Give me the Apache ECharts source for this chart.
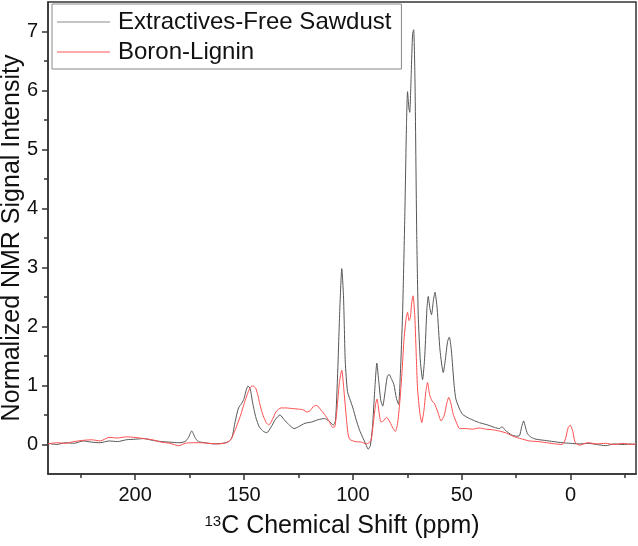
<!DOCTYPE html>
<html>
<head>
<meta charset="utf-8">
<script src="https://cdn.jsdelivr.net/npm/echarts@6/dist/echarts.min.js"></script>
<style>
  html, body { margin: 0; padding: 0; background: #fff; }
  #chart { width: 638px; height: 546px; }
</style>
</head>
<body>
<div id="chart"></div>
<script>
// 曲线数据
var sawdustPpm = [240, 236, 232, 228, 224, 220, 216, 212, 208, 204, 200, 196, 192, 188, 184, 180, 177, 175.5, 174, 172.5, 171, 168, 164, 160, 157, 155.5, 154, 152.5, 151, 150, 149, 148.2, 147.2, 146, 144.5, 143, 141, 139.5, 137.5, 135.5, 133.5, 131.5, 129.5, 127, 125, 122, 119, 116, 113, 111, 109, 108, 107, 106, 105.1, 104.3, 103.5, 102.5, 101.5, 100, 98.5, 97, 95.5, 94, 93, 92, 91, 90, 89, 88.2, 87.2, 86.3, 85.2, 84.2, 83.4, 82.4, 81.2, 80, 79, 78.2, 77.2, 76.2, 75.4, 74.9, 74.3, 73.9, 73.2, 72.6, 72.1, 71.5, 70.7, 70, 69, 68, 67, 66, 65.4, 64.6, 63.9, 63, 62.3, 61.3, 60, 58.5, 57.5, 56.5, 55.7, 54.8, 53.5, 52.7, 51, 49.6, 47, 44, 41.9, 38, 35, 32.8, 31.5, 30, 27, 25, 23.5, 22.5, 21.6, 20.8, 19.8, 18, 16, 12, 8, 4, 0, -4, -8, -12, -16, -20, -24, -28, -30];
var sawdustVal = [0.02, 0.0, 0.03, 0.02, 0.06, 0.04, 0.03, 0.06, 0.05, 0.08, 0.09, 0.10, 0.07, 0.05, 0.04, 0.03, 0.05, 0.12, 0.23, 0.12, 0.05, 0.03, 0.01, 0.02, 0.05, 0.12, 0.40, 0.62, 0.70, 0.78, 0.92, 0.99, 0.95, 0.70, 0.45, 0.30, 0.22, 0.20, 0.30, 0.43, 0.50, 0.42, 0.34, 0.27, 0.30, 0.36, 0.38, 0.42, 0.44, 0.40, 0.33, 0.40, 1.2, 2.3, 2.98, 2.5, 1.4, 0.9, 0.78, 0.62, 0.42, 0.25, 0.12, 0.0, -0.08, -0.02, 0.3, 0.9, 1.38, 1.1, 0.75, 0.65, 0.9, 1.15, 1.19, 1.12, 1.02, 0.78, 0.68, 1.2, 2.2, 3.8, 5.4, 5.98, 5.7, 5.63, 6.3, 6.95, 7.03, 6.2, 3.6, 2.2, 1.4, 1.10, 1.5, 2.3, 2.51, 2.3, 2.2, 2.45, 2.58, 2.3, 1.6, 1.22, 1.45, 1.75, 1.82, 1.6, 1.0, 0.77, 0.6, 0.51, 0.45, 0.40, 0.37, 0.33, 0.29, 0.27, 0.30, 0.24, 0.16, 0.14, 0.15, 0.3, 0.40, 0.3, 0.18, 0.12, 0.09, 0.07, 0.05, 0.03, 0.02, 0.01, 0.02, 0.0, -0.02, 0.01, 0.0, 0.01, 0.0];

var ligninPpm = [240, 236, 232, 228, 224, 220, 216, 212, 208, 204, 200, 196, 192, 188, 184, 180, 177, 174, 170, 166, 162, 158, 156, 154, 152.8, 151.5, 149.8, 148.5, 147.5, 146.5, 145.6, 144.6, 143.5, 142.9, 141.5, 139.8, 138.6, 137, 135.2, 133, 130.8, 128, 125, 123, 121, 119.5, 118, 116.5, 115, 113, 111, 109.3, 108.3, 107.3, 106.2, 105.1, 104.2, 103.1, 102.3, 101.5, 99, 96, 94, 92.5, 91.5, 90.5, 89.5, 88.9, 88, 87.1, 86, 84.5, 83, 81.5, 80.5, 79.5, 78.5, 77.5, 76.5, 75.5, 74.9, 74.2, 73.6, 73, 72.4, 71.6, 70.8, 70.3, 69.3, 68.4, 67.3, 66.5, 65.7, 64.8, 63.7, 62.6, 61, 59.5, 58, 57, 56, 55, 54, 53.4, 52, 51.1, 48, 45, 42, 39, 36, 33, 30, 27, 25, 22, 19, 15, 11, 7, 4, 2.5, 1.2, 0.2, -1, -2, -4, -8, -12, -16, -20, -24, -28, -30];
var ligninVal = [0.01, 0.03, 0.02, 0.05, 0.07, 0.08, 0.06, 0.12, 0.11, 0.13, 0.12, 0.10, 0.08, 0.04, 0.02, -0.02, 0.02, 0.03, 0.03, 0.02, 0.01, 0.03, 0.09, 0.25, 0.37, 0.50, 0.71, 0.85, 0.94, 0.99, 0.99, 0.95, 0.82, 0.71, 0.52, 0.37, 0.33, 0.42, 0.56, 0.62, 0.62, 0.61, 0.60, 0.59, 0.55, 0.58, 0.65, 0.66, 0.60, 0.51, 0.40, 0.29, 0.30, 0.6, 1.05, 1.26, 0.95, 0.49, 0.2, 0.09, 0.05, 0.04, 0.01, 0.03, 0.1, 0.4, 0.7, 0.77, 0.55, 0.38, 0.40, 0.46, 0.38, 0.27, 0.22, 0.35, 0.7, 1.2, 1.8, 2.15, 2.24, 2.10, 2.15, 2.4, 2.52, 2.2, 1.4, 0.94, 0.55, 0.37, 0.6, 0.9, 1.05, 0.85, 0.74, 0.70, 0.55, 0.40, 0.5, 0.68, 0.80, 0.70, 0.52, 0.46, 0.33, 0.27, 0.27, 0.26, 0.28, 0.26, 0.25, 0.23, 0.20, 0.15, 0.12, 0.09, 0.06, 0.05, 0.03, 0.01, 0.0, 0.08, 0.28, 0.33, 0.22, 0.04, -0.01, 0.03, 0.01, 0.02, 0.00, 0.02, 0.0, 0.01];

var xMajorTicks = [0, 50, 100, 150, 200];
var xMinorTicks = [-25, 25, 75, 125, 175, 225];
var yMajorTicks = [0, 1, 2, 3, 4, 5, 6, 7];
var yMinorTicks = [0.5, 1.5, 2.5, 3.5, 4.5, 5.5, 6.5];

function pairs(xs, ys) {
  return xs.map(function (x, i) { return [x, ys[i]]; });
}

var font = 'Liberation Sans';
var myChart = echarts.init(document.getElementById('chart'));

var option = {
  animation: false,
  grid: {
    left: 48, right: 2, top: 2, bottom: 72,
    outerBoundsMode: 'none',
    containLabel: false,
    show: true, borderColor: '#333', borderWidth: 1.5
  },
  legend: {
    orient: 'vertical',
    left: 52, top: 4,
    padding: [5, 10, 4, 5],
    itemWidth: 53, itemHeight: 2, itemGap: 4,
    icon: 'rect',
    borderColor: '#888', borderWidth: 1,
    textStyle: { fontSize: 24, fontFamily: font, color: '#111', lineHeight: 26, padding: [0, 0, 0, 3] },
    data: [
      { name: 'Extractives-Free Sawdust', itemStyle: { color: '#c4c4c4' } },
      { name: 'Boron-Lignin', itemStyle: { color: '#ffaaaa' } }
    ]
  },
  xAxis: [
    {
      type: 'value', inverse: true, min: -30, max: 240,
      position: 'bottom',
      name: '{sup|13}C Chemical Shift (ppm)',
      nameLocation: 'middle', nameGap: 40,
      nameMoveOverlap: false,
      nameTextStyle: {
        fontSize: 25, fontFamily: font, color: '#111',
        rich: { sup: { fontSize: 15, fontFamily: font, color: '#111', verticalAlign: 'top' } }
      },
      axisLine: { show: true, onZero: false, lineStyle: { color: '#333', width: 1.5 } },
      axisTick: { show: true, inside: false, length: 6, customValues: xMajorTicks, lineStyle: { color: '#333', width: 1.5 } },
      axisLabel: { customValues: xMajorTicks, fontSize: 20, fontFamily: font, color: '#111', margin: 11 },
      splitLine: { show: false }
    },
    {
      type: 'value', inverse: true, min: -30, max: 240,
      position: 'bottom',
      axisLine: { show: false, onZero: false },
      axisTick: { show: true, inside: false, length: 4, customValues: xMinorTicks, lineStyle: { color: '#333', width: 1.5 } },
      axisLabel: { show: false },
      splitLine: { show: false }
    }
  ],
  yAxis: [
    {
      type: 'value', min: -0.5, max: 7.5,
      position: 'left',
      name: 'Normalized NMR Signal Intensity',
      nameLocation: 'middle', nameGap: 23,
      nameMoveOverlap: false,
      nameTextStyle: { fontSize: 25, fontFamily: font, color: '#111' },
      axisLine: { show: true, onZero: false, lineStyle: { color: '#333', width: 1.5 } },
      axisTick: { show: true, inside: false, length: 6, customValues: yMajorTicks, lineStyle: { color: '#333', width: 1.5 } },
      axisLabel: { customValues: yMajorTicks, fontSize: 20, fontFamily: font, color: '#111', margin: 10 },
      splitLine: { show: false }
    },
    {
      type: 'value', min: -0.5, max: 7.5,
      position: 'left',
      axisLine: { show: false, onZero: false },
      axisTick: { show: true, inside: false, length: 4, customValues: yMinorTicks, lineStyle: { color: '#333', width: 1.5 } },
      axisLabel: { show: false },
      splitLine: { show: false }
    }
  ],
  series: [
    {
      name: 'Extractives-Free Sawdust',
      type: 'line',
      showSymbol: false,
      smooth: 0.2,
      color: '#555555',
      lineStyle: { width: 1, color: '#555555' },
      data: pairs(sawdustPpm, sawdustVal)
    },
    {
      name: 'Boron-Lignin',
      type: 'line',
      showSymbol: false,
      smooth: 0.2,
      color: '#ff4d4d',
      lineStyle: { width: 1, color: '#ff4d4d' },
      data: pairs(ligninPpm, ligninVal)
    }
  ]
};

myChart.setOption(option);
window.addEventListener('resize', function () {
  myChart.resize();
}, true);
</script>
</body>
</html>
